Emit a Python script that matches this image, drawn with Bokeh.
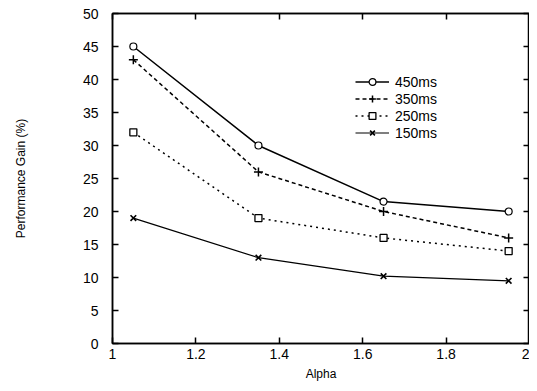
from bokeh.plotting import figure
from bokeh.models import (LinearAxis, FixedTicker, CustomJSTickFormatter, Range1d,
                          Legend, LegendItem)
from bokeh.embed import file_html
from bokeh.resources import INLINE

alpha = [1.05, 1.35, 1.65, 1.95]
gain_450 = [45, 30, 21.5, 20]
gain_350 = [43, 26, 20, 16]
gain_250 = [32, 19, 16, 14]
gain_150 = [19, 13, 10.2, 9.5]
series_labels = ["450ms", "350ms", "250ms", "150ms"]
x_ticks = [1, 1.2, 1.4, 1.6, 1.8, 2]
y_ticks = [0, 5, 10, 15, 20, 25, 30, 35, 40, 45, 50]

FONT = "Liberation Sans"

p = figure(width=529, height=383, output_backend="svg", toolbar_location=None,
           x_range=Range1d(1, 2), y_range=Range1d(0, 50),
           min_border_left=112, min_border_right=0, min_border_top=13, min_border_bottom=39)
p.grid.visible = False
p.outline_line_color = "black"
p.outline_line_width = 1.5
p.background_fill_color = "white"
p.border_fill_color = "white"

fmt = CustomJSTickFormatter(code="return String(Math.round(tick*10)/10);")
blank = CustomJSTickFormatter(code="return '';")

for ax in p.xaxis:
    ax.ticker = FixedTicker(ticks=x_ticks)
    ax.formatter = fmt
    ax.axis_label = "Alpha"
for ax in p.yaxis:
    ax.ticker = FixedTicker(ticks=y_ticks)
    ax.axis_label = "Performance Gain (%)"

top = LinearAxis(ticker=FixedTicker(ticks=x_ticks), formatter=blank, major_label_standoff=0,
                 axis_label_standoff=0)
right = LinearAxis(ticker=FixedTicker(ticks=y_ticks), formatter=blank, major_label_standoff=0,
                   axis_label_standoff=0)
p.add_layout(top, "above")
p.add_layout(right, "right")

for ax in p.axis:
    ax.major_tick_in = 6
    ax.major_tick_out = 0
    ax.minor_tick_line_color = None
    ax.axis_line_color = "black"
    ax.axis_line_width = 1.5
    ax.major_tick_line_width = 1.5
    ax.major_label_text_font = FONT
    ax.major_label_text_font_size = "14px"
    ax.major_label_text_color = "black"
    ax.axis_label_text_font = FONT
    ax.axis_label_text_font_size = "12px"
    ax.axis_label_text_font_style = "normal"
    ax.axis_label_text_color = "black"
top.axis_label = None
right.axis_label = None
top.major_label_text_font_size = "1px"
right.major_label_text_font_size = "1px"
p.xaxis[0].axis_label_standoff = 1
p.xaxis[0].major_label_standoff = 4
p.yaxis[0].axis_label_standoff = 52
p.yaxis[0].major_label_standoff = 14

r450l = p.line(alpha, gain_450, line_color="black", line_width=1.5)
r450m = p.scatter(alpha, gain_450, marker="circle", size=7, fill_color="white",
                  line_color="black", line_width=1.2)
r350l = p.line(alpha, gain_350, line_color="black", line_width=1.5, line_dash="4 3")
r350m = p.scatter(alpha, gain_350, marker="cross", size=9, line_color="black", line_width=1.5)
r250l = p.line(alpha, gain_250, line_color="black", line_width=1.5, line_dash="2 4")
r250m = p.scatter(alpha, gain_250, marker="square", size=7, fill_color="white",
                  line_color="black", line_width=1.3)
r150l = p.line(alpha, gain_150, line_color="black", line_width=1.2)
r150m = p.scatter(alpha, gain_150, marker="x", size=8, line_color="black", line_width=1.6)

legend = Legend(items=[
    LegendItem(label=series_labels[0], renderers=[r450l, r450m]),
    LegendItem(label=series_labels[1], renderers=[r350l, r350m]),
    LegendItem(label=series_labels[2], renderers=[r250l, r250m]),
    LegendItem(label=series_labels[3], renderers=[r150l, r150m]),
], location=(243, 202))
legend.border_line_color = None
legend.background_fill_alpha = 0
legend.label_text_font = FONT
legend.label_text_font_size = "14px"
legend.label_text_color = "black"
legend.spacing = 0
legend.padding = 0
legend.glyph_width = 34
legend.glyph_height = 17
legend.label_height = 17
legend.label_standoff = 6
legend.margin = 0
p.add_layout(legend, "center")

open("out.html", "w").write(file_html(p, INLINE))
